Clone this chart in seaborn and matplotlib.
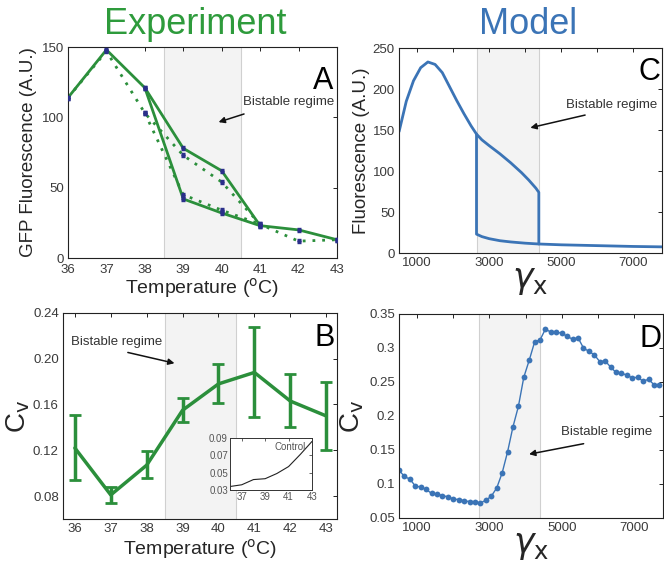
import matplotlib
matplotlib.use("Agg")
import matplotlib.pyplot as plt
import seaborn as sns
import pandas as pd

# ---------------- data ----------------
temps = [36, 37, 38, 39, 40, 41, 42, 43]
temp_labels = ["36", "37", "38", "39", "40", "41", "42", "43"]

# Panel A: GFP fluorescence (solid = replicate 1, dotted = replicate 2)
a_solid_up_x = [36, 37, 38, 39, 40, 41, 42, 43]
a_solid_up_y = [114, 148, 121, 78, 62, 23, 20, 13]
a_solid_lo_x = [38, 39, 40, 41]
a_solid_lo_y = [121, 42, 32, 23]
a_dot_up_x = [36, 37, 38, 39, 40, 41, 42, 43]
a_dot_up_y = [114, 147, 103, 73, 54, 24, 12, 13]
a_dot_lo_x = [38, 39, 40, 41]
a_dot_lo_y = [103, 45, 34, 24]

# Panel B: coefficient of variation with error bars
b_cv = [0.122, 0.081, 0.107, 0.155, 0.178, 0.188, 0.163, 0.150]
b_lo = [0.094, 0.074, 0.096, 0.145, 0.161, 0.149, 0.140, 0.120]
b_hi = [0.151, 0.088, 0.119, 0.166, 0.195, 0.228, 0.187, 0.180]

# Inset: control
ctrl_x = [36, 37, 38, 39, 40, 41, 42, 43]
ctrl_cv = [0.034, 0.036, 0.042, 0.043, 0.049, 0.057, 0.071, 0.086]

# Panel C: model fluorescence vs gamma_x
c_up_x = [500, 700, 900, 1100, 1300, 1500, 1700, 1900, 2100, 2300, 2500, 2650,
          2800, 3000, 3300, 3600, 3900, 4100, 4300, 4380]
c_up_y = [148, 185, 210, 226, 233, 230, 220, 203, 186, 170, 155, 145,
          138, 131, 121, 110, 98, 89, 79, 74]
c_lo_x = [2650, 2800, 3000, 3300, 3600, 4000, 4380, 5000, 6000, 7000, 7800]
c_lo_y = [23, 20, 17.5, 15, 13.5, 12, 11, 10, 9, 8, 7.5]

# Panel D: model CV vs gamma_x
d_x = [500, 650, 800, 950, 1100, 1250, 1400, 1550, 1700, 1850, 2000, 2150, 2300,
       2450, 2600, 2750, 2900, 3050, 3200, 3350, 3500, 3650, 3800, 3950, 4100,
       4250, 4400, 4550, 4700, 4850, 5000, 5150, 5300, 5450, 5600, 5750, 5900,
       6050, 6200, 6350, 6500, 6650, 6800, 6950, 7100, 7250, 7400, 7550, 7700]
d_cv = [0.120, 0.111, 0.107, 0.097, 0.0955, 0.092, 0.086, 0.085, 0.083, 0.081,
        0.078, 0.077, 0.0755, 0.074, 0.074, 0.072, 0.076, 0.082, 0.094, 0.116,
        0.147, 0.184, 0.214, 0.257, 0.282, 0.309, 0.312, 0.328, 0.323, 0.323,
        0.322, 0.317, 0.313, 0.315, 0.300, 0.295, 0.290, 0.280, 0.281, 0.272,
        0.264, 0.263, 0.260, 0.256, 0.257, 0.251, 0.254, 0.246, 0.246]

gx_ticks = [1000, 2000, 3000, 4000, 5000, 6000, 7000]
gx_labels = ["1000", "", "3000", "", "5000", "", "7000"]
a_yticks = [0, 50, 100, 150]
b_yticks = [0.08, 0.12, 0.16, 0.20, 0.24]
b_ylabels = ["0.08", "0.12", "0.16", "0.20", "0.24"]
c_yticks = [0, 50, 100, 150, 200, 250]
d_yticks = [0.05, 0.10, 0.15, 0.20, 0.25, 0.30, 0.35]
d_ylabels = ["0.05", "0.1", "0.15", "0.2", "0.25", "0.3", "0.35"]
inset_yticks = [0.03, 0.05, 0.07, 0.09]
inset_xticks = [37, 39, 41, 43]

# ---------------- style ----------------
sns.set_theme(style="white")
plt.rcParams["font.family"] = ["Liberation Sans", "DejaVu Sans"]
plt.rcParams["mathtext.fontset"] = "dejavusans"

GREEN = "#2b8f3b"
TGREEN = "#2e9b3c"
BLUE = "#3b74b6"
NAVY = "#2a2f8a"
TICKC = "#3a3a3a"

fig = plt.figure(figsize=(6.64, 5.63), dpi=100)
axA = fig.add_axes([0.1024, 0.5417, 0.4051, 0.3748])
axB = fig.add_axes([0.0949, 0.0782, 0.4126, 0.3660])
axC = fig.add_axes([0.6010, 0.5506, 0.3960, 0.3641])
axD = fig.add_axes([0.6010, 0.0800, 0.3975, 0.3623])


def style(ax):
    for s in ax.spines.values():
        s.set_color("#222222")
        s.set_linewidth(0.8)
        s.set_visible(True)
    ax.tick_params(direction="in", length=3, width=0.7, top=True, right=True,
                   labelsize=9.5, colors="#222222", labelcolor=TICKC, pad=3)


def band(ax, x0, x1):
    ax.axvspan(x0, x1, color="#f3f3f3", zorder=0, lw=0)
    ax.axvline(x0, color="#d0d0d0", lw=0.8, zorder=0.5)
    ax.axvline(x1, color="#d0d0d0", lw=0.8, zorder=0.5)


def ann(ax, txt_xy, tail, head):
    ax.text(txt_xy[0], txt_xy[1], "Bistable regime", fontsize=9.5, color="#333333",
            ha="center", va="center")
    ax.annotate("", xy=head, xytext=tail,
                arrowprops=dict(arrowstyle="-|>", color="#111111", lw=1.1,
                                mutation_scale=9))


# ---------------- Panel A ----------------
style(axA)
band(axA, 38.5, 40.5)
sns.lineplot(x=a_dot_up_x, y=a_dot_up_y, ax=axA, color=GREEN, lw=2, ls=(0, (1, 2.5)),
             sort=False, estimator=None)
sns.lineplot(x=a_dot_lo_x, y=a_dot_lo_y, ax=axA, color=GREEN, lw=2, ls=(0, (1, 2.5)),
             sort=False, estimator=None)
sns.lineplot(x=a_solid_up_x, y=a_solid_up_y, ax=axA, color=GREEN, lw=2,
             sort=False, estimator=None)
sns.lineplot(x=a_solid_lo_x, y=a_solid_lo_y, ax=axA, color=GREEN, lw=2,
             sort=False, estimator=None)
for xs, ys in [(a_solid_up_x, a_solid_up_y), (a_solid_lo_x, a_solid_lo_y),
               (a_dot_up_x, a_dot_up_y), (a_dot_lo_x, a_dot_lo_y)]:
    axA.errorbar(xs, ys, yerr=1.5, fmt="o", ms=2.3, color=NAVY, elinewidth=0.8,
                 capsize=1.5, zorder=5)
axA.set_xlim(36, 43)
axA.set_ylim(0, 150)
axA.set_xticks(temps)
axA.set_xticklabels(temp_labels)
axA.set_yticks(a_yticks)
axA.tick_params(axis="x", pad=4)
axA.set_xlabel("Temperature ($^{\\mathrm{o}}$C)", fontsize=14, labelpad=0)
axA.set_ylabel("GFP Fluorescence (A.U.)", fontsize=13.5, labelpad=3)
ann(axA, (41.75, 111), (40.65, 103), (39.85, 96))
axA.text(42.65, 126, "A", fontsize=22, ha="center", va="center", color="black")

# ---------------- Panel B ----------------
style(axB)
band(axB, 38.5, 40.5)
sns.lineplot(x=temps, y=b_cv, ax=axB, color=GREEN, lw=2.5, sort=False, estimator=None)
yerr_lo = [c - l for c, l in zip(b_cv, b_lo)]
yerr_hi = [h - c for c, h in zip(b_cv, b_hi)]
axB.errorbar(temps, b_cv, yerr=[yerr_lo, yerr_hi], fmt="none", ecolor=GREEN,
             elinewidth=2.5, capsize=4, capthick=2)
axB.set_xlim(35.67, 43.3)
axB.set_ylim(0.06, 0.24)
axB.set_xticks(temps)
axB.set_xticklabels(temp_labels)
axB.set_yticks(b_yticks)
axB.set_yticklabels(b_ylabels)
axB.set_xlabel("Temperature ($^{\\mathrm{o}}$C)", fontsize=14, labelpad=1)
axB.set_ylabel("C$_{\\mathrm{v}}$", fontsize=20, labelpad=1)
ann(axB, (37.15, 0.2145), (37.4, 0.206), (38.85, 0.1955))
axB.text(42.95, 0.2185, "B", fontsize=22, ha="center", va="center", color="black")

# inset
axI = fig.add_axes([0.3464, 0.1297, 0.1235, 0.0924])
for s in axI.spines.values():
    s.set_color("#333333")
    s.set_linewidth(0.7)
    s.set_visible(True)
sns.lineplot(x=ctrl_x, y=ctrl_cv, ax=axI, color="#222222", lw=0.8, sort=False,
             estimator=None)
axI.set_xlim(36, 43)
axI.set_ylim(0.03, 0.09)
axI.set_xticks(inset_xticks)
axI.set_yticks(inset_yticks)
axI.set_yticklabels(["0.03", "0.05", "0.07", "0.09"])
axI.tick_params(direction="in", length=2, width=0.5, labelsize=7,
                labelcolor="#555555", pad=1.5, top=True, right=True)
axI.text(41.1, 0.0795, "Control", fontsize=7, color="#555555", ha="center",
         va="center")

# ---------------- Panel C ----------------
style(axC)
band(axC, 2650, 4380)
c_path1_x = c_up_x + [4380] + [x for x in c_lo_x if x >= 4380]
c_path1_y = c_up_y + [11] + [y for x, y in zip(c_lo_x, c_lo_y) if x >= 4380]
c_path2_x = [2650] + [x for x in c_lo_x if x <= 4380]
c_path2_y = [145] + [y for x, y in zip(c_lo_x, c_lo_y) if x <= 4380]
sns.lineplot(x=c_path1_x, y=c_path1_y, ax=axC, color=BLUE, lw=2, sort=False,
             estimator=None)
sns.lineplot(x=c_path2_x, y=c_path2_y, ax=axC, color=BLUE, lw=2, sort=False,
             estimator=None)
axC.set_xlim(500, 7800)
axC.set_ylim(0, 250)
axC.set_xticks(gx_ticks)
axC.set_xticklabels(gx_labels)
axC.set_yticks(c_yticks)
axC.set_xlabel("$\\gamma_{\\mathrm{x}}$", fontsize=25, labelpad=-4)
axC.set_ylabel("Fluorescence (A.U.)", fontsize=13.5, labelpad=2)
ann(axC, (6400, 180), (5740, 169), (4070, 152))
axC.text(7440, 221, "C", fontsize=22, ha="center", va="center", color="black")

# ---------------- Panel D ----------------
style(axD)
band(axD, 2700, 4400)
sns.lineplot(x=d_x, y=d_cv, ax=axD, color=BLUE, lw=1.0, marker="o", ms=4.2,
             markeredgewidth=0, sort=False, estimator=None)
axD.set_xlim(500, 7800)
axD.set_ylim(0.05, 0.35)
axD.set_xticks(gx_ticks)
axD.set_xticklabels(gx_labels)
axD.set_yticks(d_yticks)
axD.set_yticklabels(d_ylabels)
axD.set_xlabel("$\\gamma_{\\mathrm{x}}$", fontsize=25, labelpad=-4)
axD.set_ylabel("C$_{\\mathrm{v}}$", fontsize=20, labelpad=2)
ann(axD, (6240, 0.177), (5680, 0.160), (4020, 0.143))
axD.text(7450, 0.313, "D", fontsize=22, ha="center", va="center", color="black")

# ---------------- titles ----------------
fig.text(0.294, 0.957, "Experiment", fontsize=26, color=TGREEN, ha="center",
         va="center")
fig.text(0.795, 0.957, "Model", fontsize=26, color=BLUE, ha="center", va="center")

fig.savefig("out.png", dpi=100)
